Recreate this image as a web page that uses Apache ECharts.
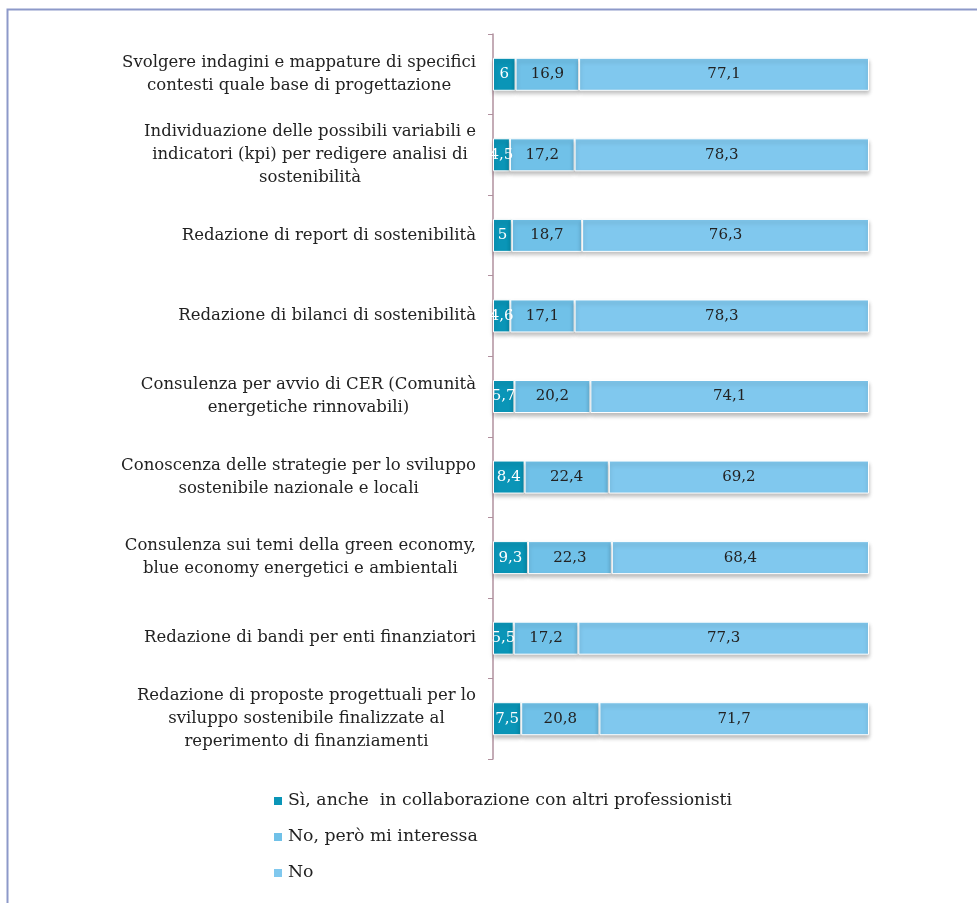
<!DOCTYPE html>
<html>
<head>
<meta charset="utf-8">
<script src="https://cdn.jsdelivr.net/npm/echarts@6/dist/echarts.min.js"></script>
<style>
  html, body { margin: 0; padding: 0; background: #fff; }
  #chart { width: 977px; height: 903px; }
</style>
</head>
<body>
<div id="chart"></div>
<script>
// categories (top to bottom)
const categories = [
  "Svolgere indagini e mappature di specifici\ncontesti quale base di progettazione",
  "Individuazione delle possibili variabili e\nindicatori (kpi) per redigere analisi di\nsostenibilità",
  "Redazione di report di sostenibilità",
  "Redazione di bilanci di sostenibilità",
  "Consulenza per avvio di CER (Comunità\nenergetiche rinnovabili)",
  "Conoscenza delle strategie per lo sviluppo\nsostenibile nazionale e locali",
  "Consulenza sui temi della green economy,\nblue economy energetici e ambientali",
  "Redazione di bandi per enti finanziatori",
  "Redazione di proposte progettuali per lo\nsviluppo sostenibile finalizzate al\nreperimento di finanziamenti"
];
const seriesNames = [
  "Sì, anche  in collaborazione con altri professionisti",
  "No, però mi interessa",
  "No"
];
const siValues = [6, 4.5, 5, 4.6, 5.7, 8.4, 9.3, 5.5, 7.5];
const interessaValues = [16.9, 17.2, 18.7, 17.1, 20.2, 22.4, 22.3, 17.2, 20.8];
const noValues = [77.1, 78.3, 76.3, 78.3, 74.1, 69.2, 68.4, 77.3, 71.7];

const colors = ["#0a95b7", "#70c1e8", "#80c8ee"];
const labelColors = ["#ffffff", "#222222", "#222222"];
const font = "'DejaVu Serif', serif";

const chart = echarts.init(document.getElementById("chart"));

function makeSeries(name, data, i) {
  return {
    name: name,
    type: "bar",
    stack: "tot",
    data: data,
    barWidth: 33,
    itemStyle: {
      color: colors[i],
      borderColor: "#ffffff",
      borderWidth: 1,
      shadowColor: "rgba(0,0,0,0.25)",
      shadowBlur: 4,
      shadowOffsetY: 3
    },
    label: {
      show: true,
      position: "inside",
      color: labelColors[i],
      fontFamily: font,
      fontSize: 15,
      formatter: p => String(p.value).replace(".", ",")
    }
  };
}

chart.setOption({
  animation: false,
  color: colors,
  graphic: [{
    type: "rect",
    left: 5, top: 7, z: -10,
    shape: { width: 1000, height: 1000 },
    style: { fill: "none", stroke: "#8d99c9", lineWidth: 2 }
  }],
  grid: { left: 493, right: 108, top: 34, bottom: 144 },
  xAxis: { type: "value", min: 0, max: 100, show: false },
  yAxis: {
    type: "category",
    inverse: true,
    data: categories,
    axisLine: { show: true, lineStyle: { color: "#b0909e", width: 1.5 } },
    axisTick: { show: true, length: 5, lineStyle: { color: "#b0909e" } },
    axisLabel: {
      margin: 17,
      color: "#222",
      fontFamily: font,
      fontSize: 16.5,
      formatter: v => v.split("\n").map(l => "{c|" + l + "}").join("\n"),
      rich: { c: { align: "center", fontFamily: font, fontSize: 16.5, lineHeight: 23, color: "#222" } }
    }
  },
  legend: {
    orient: "vertical",
    left: 267,
    top: 786,
    itemWidth: 10,
    itemHeight: 10,
    itemGap: 16,
    icon: "rect",
    textStyle: { fontFamily: font, fontSize: 17.3, color: "#222", lineHeight: 20 },
    data: seriesNames
  },
  series: [
    makeSeries(seriesNames[0], siValues, 0),
    makeSeries(seriesNames[1], interessaValues, 1),
    makeSeries(seriesNames[2], noValues, 2)
  ]
});
</script>
</body>
</html>
